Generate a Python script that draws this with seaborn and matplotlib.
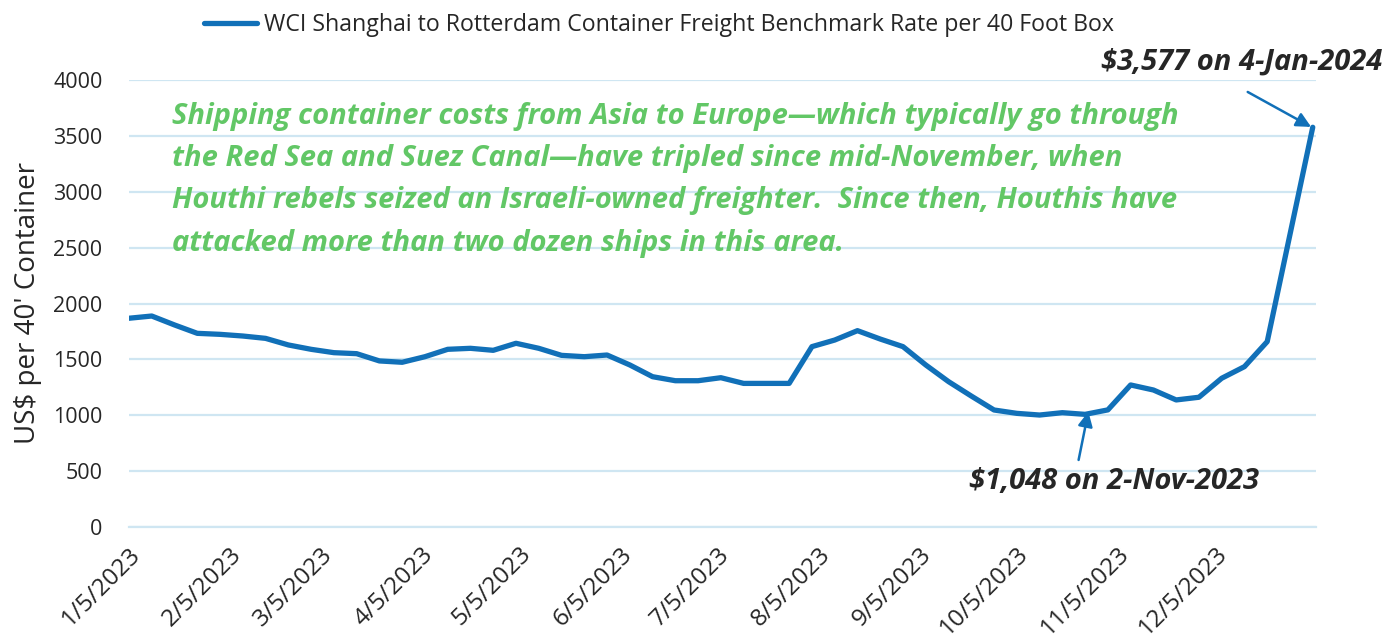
import pandas as pd
import matplotlib.pyplot as plt
import matplotlib.dates as mdates
from matplotlib.ticker import FuncFormatter
import seaborn as sns

# Weekly WCI readings (Thursdays); no print on 28-Dec-2023
dates = list(pd.date_range('2023-01-05', '2023-12-21', freq='7D')) + [pd.Timestamp('2024-01-04')]
rates = [1868, 1888, 1808, 1733, 1724, 1709, 1688, 1629, 1590, 1560,
         1551, 1486, 1474, 1524, 1590, 1599, 1581, 1644, 1599, 1536,
         1524, 1539, 1450, 1345, 1309, 1309, 1336, 1285, 1285, 1285,
         1614, 1673, 1757, 1682, 1614, 1450, 1301, 1172, 1047, 1017,
         1002, 1023, 1008, 1048, 1271, 1226, 1137, 1161, 1331, 1435,
         1659, 3577]
series_label = 'WCI Shanghai to Rotterdam Container Freight Benchmark Rate per 40 Foot Box'
note = ('Shipping container costs from Asia to Europe\u2014which typically go through\n'
        'the Red Sea and Suez Canal\u2014have tripled since mid-November, when\n'
        'Houthi rebels seized an Israeli-owned freighter.  Since then, Houthis have\n'
        'attacked more than two dozen ships in this area.')

df = pd.DataFrame({'Date': dates, 'Rate': rates})

BLUE = '#1170b8'
GRID = '#cfe6f2'
GREEN = '#62c766'

sns.set_style('white')
plt.rcParams['font.family'] = ['Open Sans', 'DejaVu Sans']

fig = plt.figure(figsize=(13.86, 6.38), dpi=100)
ax = fig.add_axes([129 / 1386, 1 - 527 / 638, (1316 - 129) / 1386, (527 - 80) / 638])

sns.lineplot(data=df, x='Date', y='Rate', ax=ax, color=BLUE, linewidth=3.8,
             label=series_label, solid_joinstyle='round', solid_capstyle='round')

ax.set_xlim(pd.Timestamp('2023-01-05'), pd.Timestamp('2024-01-05'))
ax.set_ylim(0, 4000)
ax.set_yticks(range(0, 4001, 500))
ax.yaxis.grid(True, color=GRID, linewidth=1.6)
ax.set_axisbelow(True)

ax.xaxis.set_major_locator(mdates.MonthLocator(bymonthday=5))
ax.xaxis.set_major_formatter(FuncFormatter(
    lambda v, pos: '' if mdates.num2date(v).year == 2024 else
    f'{mdates.num2date(v).month}/{mdates.num2date(v).day}/{mdates.num2date(v).year}'))
for lbl in ax.get_xticklabels():
    lbl.set_rotation(45)
    lbl.set_ha('right')
    lbl.set_rotation_mode('anchor')
ax.tick_params(axis='x', direction='out', length=7, width=1.6, color=GRID,
               labelsize=17.5, pad=4)
ax.tick_params(axis='y', length=0, labelsize=15.5, pad=19)

for side in ['top', 'right', 'left']:
    ax.spines[side].set_visible(False)
ax.spines['bottom'].set_color(GRID)
ax.spines['bottom'].set_linewidth(1.6)

ax.set_xlabel('')
ax.set_ylabel("US$ per 40' Container", fontsize=20, labelpad=8)

ax.legend(loc='center', bbox_to_anchor=(0.4465, 1 + (80 - 25) / 447), frameon=False,
          fontsize=16.7, handlelength=2.3, handletextpad=0.3)

fig.text(172 / 1386, 1 - 102 / 638, note, color=GREEN, fontsize=21, fontweight='bold',
         fontstyle='italic', va='top', ha='left', linespacing=1.6)

ax.annotate('', xy=(pd.Timestamp('2024-01-03 12:00'), 3580), xytext=(pd.Timestamp('2023-12-15'), 3893),
            arrowprops=dict(arrowstyle='-|>', color=BLUE, lw=1.8, mutation_scale=22,
                            shrinkA=0, shrinkB=0), annotation_clip=False)
ax.text(pd.Timestamp('2023-12-13'), 4161, '$3,577 on 4-Jan-2024', fontsize=21, fontweight='bold',
        fontstyle='italic', ha='center', va='center', clip_on=False)

ax.annotate('', xy=(pd.Timestamp('2023-10-27'), 1032), xytext=(pd.Timestamp('2023-10-24'), 600),
            arrowprops=dict(arrowstyle='-|>', color=BLUE, lw=1.8, mutation_scale=22,
                            shrinkA=0, shrinkB=0))
ax.text(pd.Timestamp('2023-11-04'), 403, '$1,048 on 2-Nov-2023', fontsize=21, fontweight='bold',
        fontstyle='italic', ha='center', va='center')

fig.savefig('out.png', dpi=100)
